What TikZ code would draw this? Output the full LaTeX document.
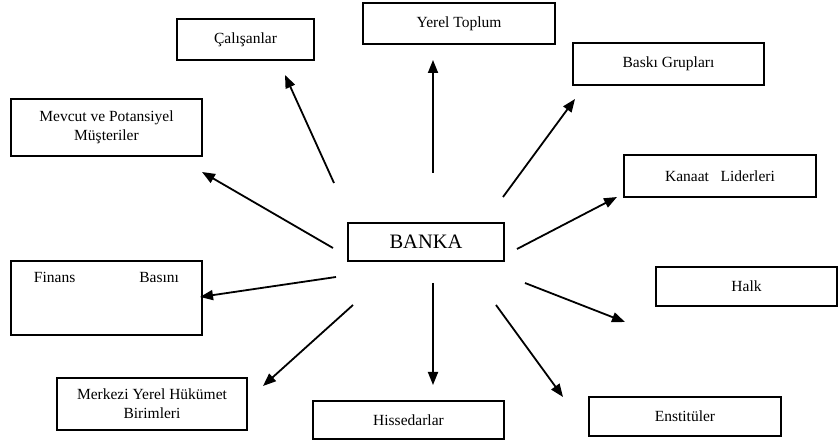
\documentclass[tikz,border=0pt]{standalone}
\usepackage{fontspec}
\setmainfont{Liberation Serif}
\usetikzlibrary{arrows.meta}

\begin{document}
\begin{tikzpicture}[
    x=1pt, y=-1pt,
    box/.style={draw, line width=2pt, align=center, inner sep=2pt,
        font=\fontsize{15.5}{19}\selectfont},
    every edge/.style={draw, -{Triangle[length=13pt, width=10pt]}, line width=1.8pt},
]
  \useasboundingbox (0,0) rectangle (839,443);
  % center
  \node[box, minimum width=156pt, minimum height=38pt,
        font=\fontsize{20.5}{24}\selectfont] (banka) at (426,242) {BANKA};
  % the groups round the bank
  \node[box, minimum width=137pt, minimum height=41pt] (calisanlar) at (245.5,39.5) {Çalışanlar};
  \node[box, minimum width=192pt, minimum height=41pt] (yerel) at (459,23.5) {Yerel Toplum};
  \node[box, minimum width=191pt, minimum height=42pt] (baski) at (668.5,64) {Baskı Grupları};
  \node[box, minimum width=191pt, minimum height=57pt] (musteri) at (106.5,127.5)
        {Mevcut ve Potansiyel\\Müşteriler};
  \node[box, minimum width=192pt, minimum height=42pt] (kanaat) at (720,176) {Kanaat\ \ \ Liderleri};
  \node[box, minimum width=191pt, minimum height=74pt,
        label={[anchor=north, yshift=-9pt, font=\fontsize{15.5}{19}\selectfont]north:\makebox[145pt]{Finans\hfill Basını}}]
        (finans) at (106.5,298) {};
  \node[box, minimum width=181pt, minimum height=39pt] (halk) at (746.5,286.5) {Halk};
  \node[box, minimum width=190pt, minimum height=52pt] (merkezi) at (152,404)
        {Merkezi Yerel Hükümet\\Birimleri};
  \node[box, minimum width=191pt, minimum height=38pt] (hisse) at (408.5,420) {Hissedarlar};
  \node[box, minimum width=192pt, minimum height=39pt] (enstitu) at (685,416.5) {Enstitüler};
  % arrows, they stop short of the boxes
  \foreach \n/\a/\b in {cal/{334,183}/{285,75}, mus/{333,248}/{202,172},
      yer/{433,173}/{433,60}, bas/{503,197}/{575,99}, kan/{517,249}/{617,197},
      fin/{336,277}/{200,297}, mer/{353,305}/{263,386}, his/{433,283}/{433,385},
      ens/{496,305}/{563,397}, hal/{525,283}/{625,322}}
  {
    \coordinate (\n0) at (\a);
    \coordinate (\n1) at (\b);
    \path (\n0) edge (\n1);
  }
\end{tikzpicture}
\end{document}
